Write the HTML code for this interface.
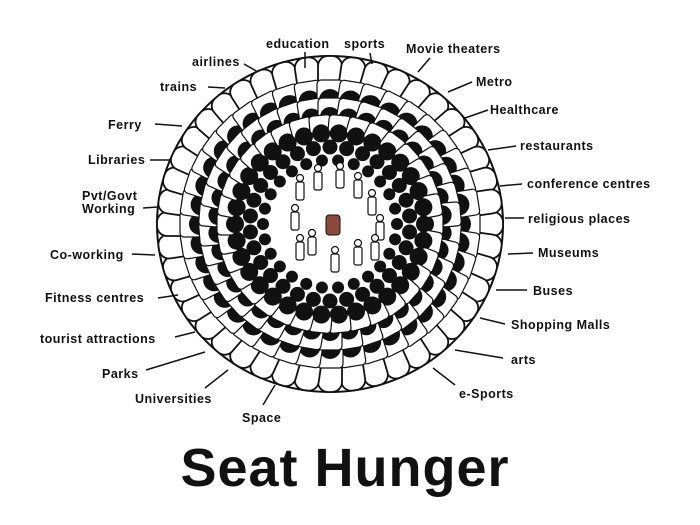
<!DOCTYPE html>
<html><head><meta charset="utf-8">
<style>
html,body{margin:0;padding:0;background:#fff;}
svg{display:block;}
text{font-family:"Liberation Sans",sans-serif;fill:#111;}
.l{font-size:12.5px;font-weight:bold;letter-spacing:0.5px;}
</style></head>
<body>
<svg id="s" width="700" height="525" viewBox="0 0 700 525" xmlns="http://www.w3.org/2000/svg">
<g id="crowd"></g>
<g stroke="#111" stroke-width="1.5">
<line x1="305" y1="52" x2="305" y2="68"/>
<line x1="370" y1="53" x2="372" y2="64"/>
<line x1="430" y1="58" x2="418" y2="72"/>
<line x1="472" y1="82" x2="448" y2="92"/>
<line x1="488" y1="110" x2="465" y2="118"/>
<line x1="516" y1="146" x2="488" y2="150"/>
<line x1="522" y1="184" x2="500" y2="186"/>
<line x1="524" y1="218" x2="505" y2="218"/>
<line x1="533" y1="253" x2="508" y2="254"/>
<line x1="527" y1="290" x2="496" y2="290"/>
<line x1="505" y1="324" x2="480" y2="318"/>
<line x1="503" y1="358" x2="455" y2="350"/>
<line x1="455" y1="385" x2="433" y2="368"/>
<line x1="263" y1="405" x2="275" y2="385"/>
<line x1="205" y1="388" x2="228" y2="370"/>
<line x1="146" y1="370" x2="205" y2="352"/>
<line x1="175" y1="337" x2="195" y2="332"/>
<line x1="158" y1="298" x2="178" y2="295"/>
<line x1="132" y1="254" x2="155" y2="255"/>
<line x1="143" y1="208" x2="158" y2="207"/>
<line x1="150" y1="160" x2="170" y2="160"/>
<line x1="155" y1="124" x2="182" y2="126"/>
<line x1="208" y1="87" x2="225" y2="88"/>
<line x1="244" y1="64" x2="258" y2="72"/>
</g>
<g class="labels">
<text class="l" x="266" y="48">education</text>
<text class="l" x="344" y="48">sports</text>
<text class="l" x="406" y="53">Movie theaters</text>
<text class="l" x="476" y="86">Metro</text>
<text class="l" x="490" y="114">Healthcare</text>
<text class="l" x="520" y="150">restaurants</text>
<text class="l" x="527" y="188">conference centres</text>
<text class="l" x="528" y="223">religious places</text>
<text class="l" x="538" y="257">Museums</text>
<text class="l" x="533" y="295">Buses</text>
<text class="l" x="511" y="329">Shopping Malls</text>
<text class="l" x="511" y="364">arts</text>
<text class="l" x="459" y="398">e-Sports</text>
<text class="l" x="242" y="422">Space</text>
<text class="l" x="135" y="403">Universities</text>
<text class="l" x="102" y="378">Parks</text>
<text class="l" x="40" y="343">tourist attractions</text>
<text class="l" x="45" y="302">Fitness centres</text>
<text class="l" x="50" y="259">Co-working</text>
<text class="l" x="82" y="200">Pvt/Govt</text>
<text class="l" x="82" y="213">Working</text>
<text class="l" x="88" y="164">Libraries</text>
<text class="l" x="108" y="129">Ferry</text>
<text class="l" x="160" y="91">trains</text>
<text class="l" x="192" y="66">airlines</text>
</g>
<text x="345" y="486" text-anchor="middle" style="font-size:54px;font-weight:bold;letter-spacing:1px;">Seat Hunger</text>
</svg>
<script>
(function(){
var g=document.getElementById('crowd');var NS='http://www.w3.org/2000/svg';
var cx=330,cy=224;
function el(t,a){var e=document.createElementNS(NS,t);for(var k in a)e.setAttribute(k,a[k]);g.appendChild(e);return e;}
el('ellipse',{cx:cx,cy:cy,rx:173,ry:168,fill:'#fff',stroke:'#111','stroke-width':2});
var n=44;
for(var i=0;i<n;i++){var a=i/n*Math.PI*2;var rx=156,ry=151;
 var x=cx+Math.cos(a)*rx,y=cy+Math.sin(a)*ry;var deg=a*180/Math.PI+90;
 el('rect',{x:x-12,y:y-17,width:24,height:34,rx:10,fill:'#fff',stroke:'#111','stroke-width':1.8,transform:'rotate('+deg+' '+x+' '+y+')'});
}
var rings=[[130,124,40,11],[112,107,38,10],[95,91,34,9],[80,77,30,7.5],[67,64,26,6]];
rings.forEach(function(r,k){
 for(var i=0;i<r[2];i++){var a=(i+(k%2)*0.5)/r[2]*Math.PI*2;
  var x=cx+Math.cos(a)*r[0],y=cy+Math.sin(a)*r[1];var deg=a*180/Math.PI+90;
  if(k<3){var ox=cx+Math.cos(a)*(r[0]+9),oy=cy+Math.sin(a)*(r[1]+9);
   el('rect',{x:ox-r[3]-2,y:oy-r[3],width:2*r[3]+4,height:2*r[3],rx:4,fill:'#fff',stroke:'#111','stroke-width':1.2,transform:'rotate('+deg+' '+ox+' '+oy+')'});}
  el('circle',{cx:x,cy:y,r:r[3],fill:'#111'});
 }
});
el('ellipse',{cx:cx,cy:cy,rx:55,ry:52,fill:'#fff'});
var figs=[[300,190],[318,180],[340,178],[358,188],[372,205],[295,220],[380,230],[300,250],[335,262],[358,255],[375,250],[312,245]];
figs.forEach(function(f){el('circle',{cx:f[0],cy:f[1]-12,r:3.5,fill:'#fff',stroke:'#111','stroke-width':1.2});
 el('rect',{x:f[0]-4,y:f[1]-8,width:8,height:18,rx:2,fill:'#fff',stroke:'#111','stroke-width':1.2});});
el('rect',{x:326,y:215,width:14,height:20,rx:3,fill:'#8b4a3a',stroke:'#111','stroke-width':1});
})();
</script>
</body></html>
